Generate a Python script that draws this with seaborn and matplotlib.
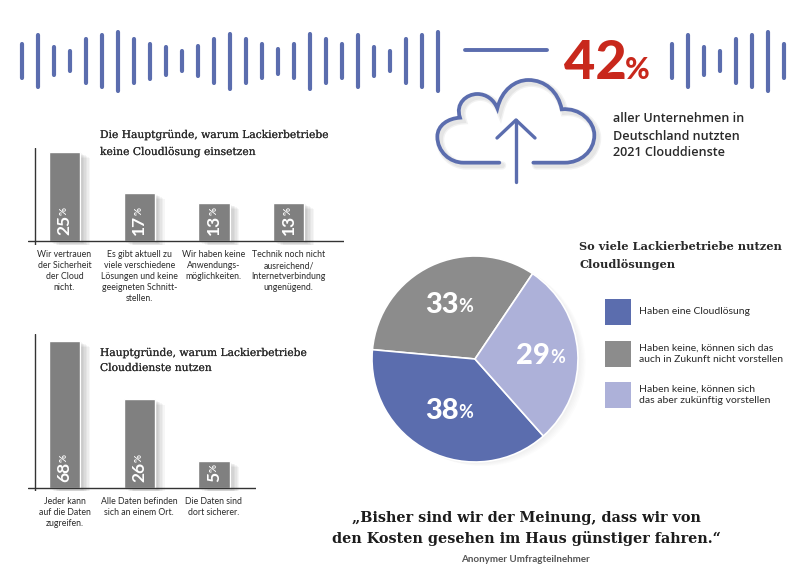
import numpy as np
import pandas as pd
import seaborn as sns
from matplotlib import pyplot as plt
from matplotlib.patches import PathPatch, Rectangle
from matplotlib.path import Path
from matplotlib import patheffects as pe

W, H = 805, 578

BLUE = '#5b6dae'
LIGHT = '#adb1d9'
GRAY_BAR = '#808080'
GRAY_PIE = '#8c8c8c'
RED = '#c8281c'
INK = '#2a2a2a'

# decorative sound wave, length of each stroke
wave_left = [37, 55, 31, 23, 47, 55, 62, 47, 38, 31, 23, 33, 47, 58,
             47, 37, 28, 37, 58, 47, 37, 55, 32, 23, 47, 55, 62]
wave_right = [37, 55, 31, 23, 47, 55, 62, 37]

# first bar chart
reasons_no = ['Wir vertrauen\nder Sicherheit\nder Cloud\nnicht.',
              'Es gibt aktuell zu\nviele verschiedene\nLösungen und keine\ngeeigneten Schnitt-\nstellen.',
              'Wir haben keine\nAnwendungs-\nmöglichkeiten.',
              'Technik noch nicht\nausreichend/\nInternetverbindung\nungenügend.']
heights_no = [89, 48, 38, 38]
labels_no = ['25', '17', '13', '13']

# second bar chart
reasons_yes = ['Jeder kann\nauf die Daten\nzugreifen.',
               'Alle Daten befinden\nsich an einem Ort.',
               'Die Daten sind\ndort sicherer.']
heights_yes = [147, 89, 27]
labels_yes = ['68', '26', '5']

# pie
pie_values = [33, 38, 29]
pie_colors = [GRAY_PIE, BLUE, LIGHT]
pie_label_pos = [0.59, 0.56, 0.64]
legend_labels = ['Haben eine Cloudlösung',
                 'Haben keine, können sich das\nauch in Zukunft nicht vorstellen',
                 'Haben keine, können sich\ndas aber zukünftig vorstellen']
legend_colors = [BLUE, GRAY_PIE, LIGHT]

sns.set_style('white')
plt.rcParams['font.family'] = ['Lato', 'DejaVu Sans']

fig = plt.figure(figsize=(W/100, H/100), dpi=100, facecolor='white')
renderer = fig.canvas.get_renderer()

# the slab titles are a bit heavier than DejaVu Serif regular
thicken = [pe.withStroke(linewidth=0.1, foreground=INK)]


def px_axes(left, top, right, bottom):
    ax = fig.add_axes([left/W, 1-bottom/H, (right-left)/W, (bottom-top)/H])
    ax.patch.set_alpha(0)
    return ax


def soft_shadow(dx=1, dy=-1, alpha=0.035, steps=6):
    return [pe.SimplePatchShadow(offset=(dx+k, dy-k*0.5), shadow_rgbFace='k', alpha=alpha)
            for k in range(steps, -1, -1)] + [pe.Normal()]


# overlay in picture pixels, for the artwork and the loose text
canvas = px_axes(0, 0, W, H)
canvas.set_xlim(0, W)
canvas.set_ylim(H, 0)
canvas.axis('off')

canvas.vlines(22 + 16*np.arange(len(wave_left)), 61 - (np.array(wave_left)-3)/2,
              61 + (np.array(wave_left)-3)/2, color=BLUE, lw=3, capstyle='round')
canvas.vlines(672 + 16*np.arange(len(wave_right)), 61 - (np.array(wave_right)-3)/2,
              61 + (np.array(wave_right)-3)/2, color=BLUE, lw=3, capstyle='round')
canvas.plot([465, 547], [50, 50], color=BLUE, lw=2.8)

# 42 %
canvas.text(564, 79, '42', color=RED, fontsize=39, fontweight='black', va='baseline')
canvas.text(625, 79, '%', color=RED, fontsize=21.5, fontweight='black', va='baseline')

# cloud icon, traced in 3x crop coordinates
verts = [(238, 428), (130, 428), (90, 428), (52, 395), (52, 350), (52, 315), (85, 295), (120, 293),
         (105, 250), (140, 222), (172, 222), (200, 222), (222, 240), (232, 265),
         (245, 210), (285, 180), (325, 180), (375, 180), (415, 215), (425, 268),
         (480, 262), (523, 305), (523, 345), (523, 395), (480, 428), (435, 428), (340, 428)]
codes = [Path.MOVETO, Path.LINETO] + [Path.CURVE4]*24 + [Path.LINETO]
verts = np.array(verts)/3 + [420, 20]
cloud = PathPatch(Path(verts, codes), fill=False, edgecolor=BLUE, lw=2.7, capstyle='round')
cloud.set_path_effects([pe.SimpleLineShadow(offset=(2, -2), shadow_color='k', alpha=0.05, linewidth=6),
                        pe.SimpleLineShadow(offset=(2, -2), shadow_color='k', alpha=0.05, linewidth=4),
                        pe.Normal()])
canvas.add_patch(cloud)
canvas.plot([516, 516], [120, 182], color=BLUE, lw=2.4, solid_capstyle='round')
canvas.plot([497, 516, 535], [138, 120, 138], color=BLUE, lw=2.4, solid_capstyle='round')

for y, line in zip([119, 136, 152], ['aller Unternehmen in', 'Deutschland nutzten', '2021 Clouddienste']):
    canvas.text(613, y, line, color=INK, fontsize=9.1, family='Open Sans', fontweight='semibold', va='center')

# titles
for y, line in zip([135, 152], ['Die Hauptgründe, warum Lackierbetriebe', 'keine Cloudlösung einsetzen']):
    canvas.text(100, y, line, color=INK, fontsize=7.7, family='DejaVu Serif', va='center', path_effects=thicken)
for y, line in zip([353, 368], ['Hauptgründe, warum Lackierbetriebe', 'Clouddienste nutzen']):
    canvas.text(100, y, line, color=INK, fontsize=7.7, family='DejaVu Serif', va='center', path_effects=thicken)
for y, line in zip([247, 264], ['So viele Lackierbetriebe nutzen', 'Cloudlösungen']):
    canvas.text(579, y, line, color=INK, fontsize=8.2, family='DejaVu Serif', fontweight='bold', va='center')

# quote
canvas.text(526, 518, '„Bisher sind wir der Meinung, dass wir von', color='#1c1c1c', fontsize=10.35,
            family='DejaVu Serif', fontweight='bold', ha='center', va='center')
canvas.text(526, 539, 'den Kosten gesehen im Haus günstiger fahren.“', color='#1c1c1c', fontsize=10.35,
            family='DejaVu Serif', fontweight='bold', ha='center', va='center')
canvas.text(525, 559, 'Anonymer Umfragteilnehmer', color='#555555', fontsize=7.1, fontweight='bold',
            ha='center', va='center')

# legend
legend_rows = [299, 341, 382]
for top, color, label in zip(legend_rows, legend_colors, legend_labels):
    canvas.add_patch(Rectangle((605, top), 26, 26, facecolor=color, edgecolor='none'))
    canvas.text(639, top+13, label, color=INK, fontsize=7.5, va='center', linespacing=1.4)


def bars(ax_box, reasons, heights, labels, pad):
    left, top, right, bottom, base = ax_box
    ax = px_axes(left, top, right, bottom)
    df = pd.DataFrame({'reason': reasons, 'height': heights})
    sns.barplot(data=df, x='reason', y='height', color=GRAY_BAR, saturation=1, width=0.42, ax=ax)
    ax.set_xlim((left-64.5)/74.7, (right-64.5)/74.7)
    ax.set_ylim(base-bottom, base-top)
    ax.set_xlabel('')
    ax.set_ylabel('')
    ax.set_yticks([])
    ax.tick_params(axis='x', length=0, pad=pad, labelsize=6.3, labelcolor=INK)
    for tick in ax.get_xticklabels():
        tick.set_linespacing(1.3)
    sns.despine(ax=ax, left=True, bottom=True)
    for bar in ax.patches:
        bar.set_path_effects(soft_shadow())
    ax.axhline(0, color='#333333', lw=1)
    ax.axvline((35-64.5)/74.7, color='#333333', lw=1)
    for i, lab in enumerate(labels):
        num = ax.annotate(lab, (i, 0), xytext=(0, 6), textcoords='offset pixels', rotation=90,
                          color='white', fontsize=12.5, fontweight='bold', ha='center', va='bottom')
        length = num.get_window_extent(renderer).height
        ax.annotate('%', (i, 0), xytext=(0, 6+length), textcoords='offset pixels', rotation=90,
                    color='white', fontsize=7, fontweight='bold', ha='center', va='bottom')
    return ax


bars((28, 148, 344, 245, 241), reasons_no, heights_no, labels_no, 3.6)
bars((28, 334, 256, 491, 488), reasons_yes, heights_yes, labels_yes, 4)

# pie
ax_pie = px_axes(372, 256, 578, 462)
wedges, _ = ax_pie.pie(pie_values, colors=pie_colors, startangle=56, counterclock=True, radius=1,
                       wedgeprops={'edgecolor': 'white', 'linewidth': 1.2})
ax_pie.set_xlim(-1, 1)
ax_pie.set_ylim(-1, 1)
for w in wedges:
    w.set_path_effects(soft_shadow(0.5, -0.5, 0.012, 5))
for w, val, dist in zip(wedges, pie_values, pie_label_pos):
    mid = np.deg2rad((w.theta1 + w.theta2)/2)
    x = 475 + 103*dist*np.cos(mid)
    y = 360 - 103*dist*np.sin(mid)
    num = canvas.text(x, y, str(val), color='white', fontsize=21, fontweight='black', ha='left', va='center', zorder=5)
    pct = canvas.text(x, y+1.5, '%', color='white', fontsize=13, fontweight='bold', ha='left', va='center', zorder=5)
    w_num = num.get_window_extent(renderer).width
    w_pct = pct.get_window_extent(renderer).width
    num.set_x(x - (w_num+w_pct)/2)
    pct.set_x(x - (w_num+w_pct)/2 + w_num)

canvas.set_zorder(10)
plt.savefig('out.png', dpi=100)
